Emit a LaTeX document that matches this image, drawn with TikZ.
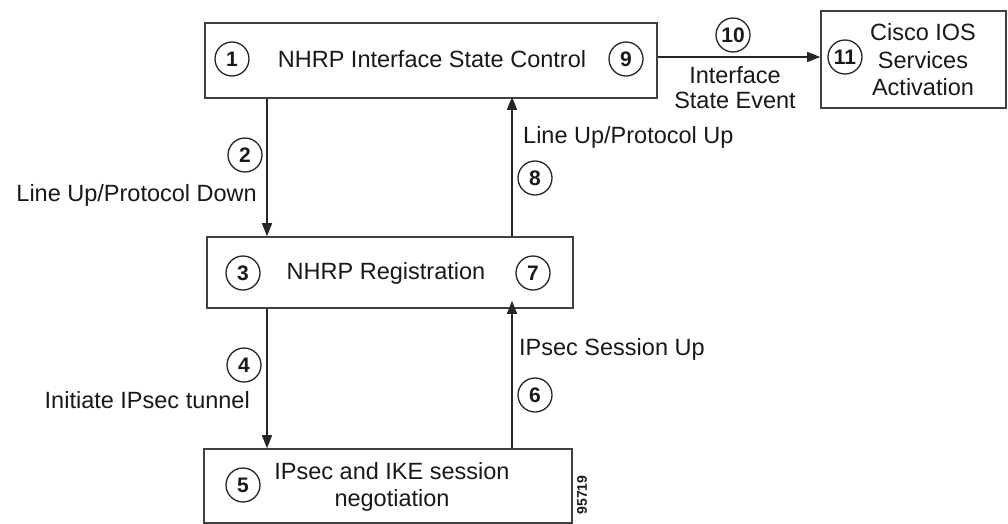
\documentclass[tikz,border=0pt]{standalone}
\usepackage{fontspec}
\setmainfont{Liberation Sans}
\usetikzlibrary{arrows.meta}
\begin{document}
\begin{tikzpicture}[x=1pt,y=-1pt,
  every node/.style={font=\fontsize{23.5}{27}\selectfont, text=black!90},
  box/.style={draw=black!75, line width=1.6pt, rectangle, inner sep=0pt, fill=white},
  num/.style={draw=black!85, line width=1.3pt, circle, minimum size=34pt, inner sep=0pt,
              font=\fontsize{21}{21}\selectfont\bfseries},
  lbl/.style={inner sep=0pt, align=center},
  arr/.style={draw=black!85, line width=1.4pt, -{Triangle[length=13pt,width=10pt]}}]
\useasboundingbox (0,0) rectangle (1008,523);
\fill[white] (0,0) rectangle (1008,523);

% boxes
\node[box, minimum width=452pt, minimum height=75pt] (b1) at (431,60.5) {};
\node[box, minimum width=185pt, minimum height=97pt] (b11) at (913.5,59.5) {};
\node[box, minimum width=366pt, minimum height=71pt] (b3) at (390,272.5) {};
\node[box, minimum width=368pt, minimum height=74pt] (b5) at (388,486) {};

% box 1 content
\node[num] (n1) at (232,59) {1};
\node[lbl] (t1) at (432,59) {NHRP Interface State Control};
\node[num] (n9) at (626,59) {9};

% box 11 content
\node[num] (n11) at (845,57) {11};
\node[lbl, font=\fontsize{23.5}{27.5}\selectfont] (t11) at (923,60) {Cisco IOS\\Services\\Activation};

% box 3 content
\node[num] (n3) at (243,273) {3};
\node[lbl] (t3) at (386,273) {NHRP Registration};
\node[num] (n7) at (533,273) {7};

% box 5 content
\node[num] (n5) at (243,485) {5};
\node[lbl, font=\fontsize{23.5}{27}\selectfont] (t5) at (392,486.5) {IPsec and IKE session\\negotiation};

% connector x positions
\coordinate (cl) at (267,0);
\coordinate (cr) at (512,0);
\coordinate (ch) at (0,57);

% arrow 10
\draw[arr] (b1.east |- ch) -- (b11.west |- ch);
\node[num] (n10) at (733,35) {10};
\node[lbl, font=\fontsize{23.5}{25}\selectfont] (t10) at (735,87.5) {Interface\\State Event};

% arrow 2
\draw[arr] (b1.south -| cl) -- (b3.north -| cl);
\node[num] (n2) at (245,155) {2};
\node[lbl, anchor=east] (t2) at (257,195) {Line Up/Protocol Down};

% arrow 8
\draw[arr] (b3.north -| cr) -- ([yshift=2pt]b1.south -| cr);
\node[num] (n8) at (535,178) {8};
\node[lbl, anchor=west] (t8) at (523,137) {Line Up/Protocol Up};

% arrow 4
\draw[arr] (b3.south -| cl) -- (b5.north -| cl);
\node[num] (n4) at (244,365) {4};
\node[lbl, anchor=east] (t4) at (250,400) {Initiate IPsec tunnel};

% arrow 6
\draw[arr] (b5.north -| cr) -- ([yshift=8pt]b3.south -| cr);
\node[num] (n6) at (535,395) {6};
\node[lbl, anchor=west] (t6) at (519,349) {IPsec Session Up};

% figure number
\node[lbl, rotate=90, font=\fontsize{14}{14}\selectfont\bfseries] (fig) at (582,495) {95719};
\end{tikzpicture}
\end{document}
